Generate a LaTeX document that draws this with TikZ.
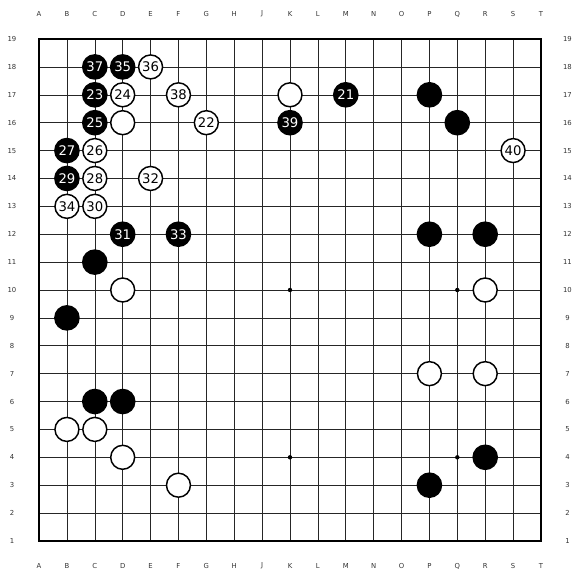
\documentclass[tikz,border=0pt]{standalone}
\usepackage{fontspec}
\setmainfont{DejaVu Sans}
\usetikzlibrary{positioning}

\begin{document}
\begin{tikzpicture}[
    x=1cm, y=1cm,
    gridline/.style={line width=0.6pt, black!85},
    border/.style={line width=1.3pt},
    coord/.style={font=\fontsize{7}{7}\selectfont, text=black!80},
    hoshi/.style={circle, fill=black, inner sep=0pt, minimum size=4.5pt},
    bstone/.style={
        circle,
        fill=black,
        inner sep=0pt,
        minimum size=0.92cm,
        text=white,
        font=\fontsize{13.5}{13.5}\selectfont
    },
    wstone/.style={
        circle,
        draw=black,
        line width=1.5pt,
        fill=white,
        inner sep=0pt,
        minimum size=0.86cm,
        font=\fontsize{13.5}{13.5}\selectfont
    }
]
\useasboundingbox (-1.4,-1.4) rectangle (19.4,19.4);

% grid
\foreach \i in {1,...,17} {
    \draw[gridline] (\i,0) -- (\i,18);
    \draw[gridline] (0,\i) -- (18,\i);
}
\draw[border] (0,0) rectangle (18,18);

% coordinates
\foreach \c [count=\i from 0] in {A,B,C,D,E,F,G,H,J,K,L,M,N,O,P,Q,R,S,T} {
    \node[coord] (top\c) at (\i,18.9) {\c};
    \node[coord] (bot\c) at (\i,-0.9) {\c};
}
\foreach \r [evaluate=\r as \y using int(\r-1)] in {1,...,19} {
    \node[coord] (left\r) at (-0.97,\y) {\r};
    \node[coord] (right\r) at (18.95,\y) {\r};
}

% star points
\foreach \x/\y [count=\n] in {9/9, 15/9, 9/3, 15/3}
    \node[hoshi] (hoshi\n) at (\x,\y) {};

% black stones
\foreach \x/\y/\t [count=\n] in {2/17/37, 3/17/35, 2/16/23, 11/16/21, 14/16/,
    2/15/25, 9/15/39, 15/15/, 1/14/27, 1/13/29, 3/11/31, 5/11/33, 14/11/,
    16/11/, 2/10/, 1/8/, 2/5/, 3/5/, 16/3/, 14/2/}
    \node[bstone] (b\n) at (\x,\y) {\t};

% white stones
\foreach \x/\y/\t [count=\n] in {4/17/36, 3/16/24, 5/16/38, 9/16/, 3/15/,
    6/15/22, 2/14/26, 17/14/40, 2/13/28, 4/13/32, 1/12/34, 2/12/30, 3/9/,
    16/9/, 14/6/, 16/6/, 1/4/, 2/4/, 3/3/, 5/2/}
    \node[wstone] (w\n) at (\x,\y) {\t};
\end{tikzpicture}
\end{document}
